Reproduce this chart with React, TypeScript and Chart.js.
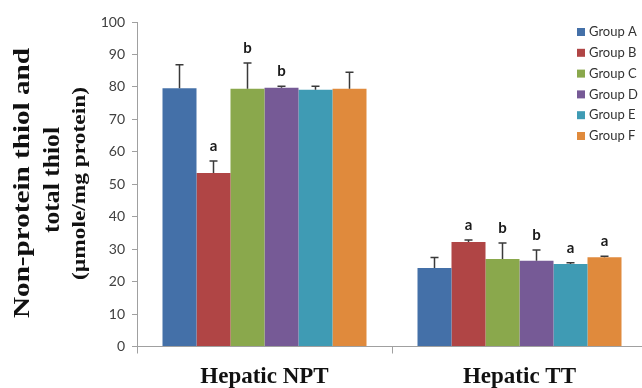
import React, { useEffect, useRef } from "react";
import { Chart, registerables } from "chart.js";

Chart.register(...registerables);

const categories = ["Hepatic NPT", "Hepatic TT"];
const groups = ["Group A", "Group B", "Group C", "Group D", "Group E", "Group F"];
const colors = ["#4470A8", "#B04545", "#8AA84C", "#765A96", "#3F9BB4", "#E08A3C"];
const groupA = [79.6, 24.2];
const groupB = [53.5, 32.2];
const groupC = [79.4, 27.0];
const groupD = [79.7, 26.4];
const groupE = [79.1, 25.4];
const groupF = [79.4, 27.5];
const errA = [7.2, 3.2];
const errB = [3.7, 0.6];
const errC = [8.0, 4.9];
const errD = [0.5, 3.3];
const errE = [1.1, 0.4];
const errF = [5.1, 0.3];
const lettersA = ["", ""];
const lettersB = ["a", "a"];
const lettersC = ["b", "b"];
const lettersD = ["b", "b"];
const lettersE = ["", "a"];
const lettersF = ["", "a"];
const yTicks = [0, 10, 20, 30, 40, 50, 60, 70, 80, 90, 100];
const yTitle = ["Non-protein thiol and", "total thiol", "(µmole/mg protein)"];

const values = [groupA, groupB, groupC, groupD, groupE, groupF];
const errors = [errA, errB, errC, errD, errE, errF];
const letters = [lettersA, lettersB, lettersC, lettersD, lettersE, lettersF];

const overlay = {
  id: "overlay",
  afterDatasetsDraw(chart: any) {
    const ctx = chart.ctx;
    const y = chart.scales.y;
    ctx.save();
    chart.data.datasets.forEach((ds: any, i: number) => {
      const meta = chart.getDatasetMeta(i);
      meta.data.forEach((bar: any, j: number) => {
        const v = values[i][j];
        const e = errors[i][j];
        const x = bar.x;
        const top = y.getPixelForValue(v + e);
        const base = y.getPixelForValue(v);
        ctx.strokeStyle = "#3a3a3a";
        ctx.lineWidth = 1.5;
        ctx.beginPath();
        ctx.moveTo(x, base);
        ctx.lineTo(x, top);
        ctx.moveTo(x - 4, top);
        ctx.lineTo(x + 4, top);
        ctx.stroke();
        const l = letters[i][j];
        if (l) {
          ctx.fillStyle = "#1a1a1a";
          ctx.font = "bold 15px Lato";
          ctx.textAlign = "center";
          ctx.textBaseline = "middle";
          ctx.fillText(l, x, top - 15);
        }
      });
    });
    ctx.restore();
  },
  afterDraw(chart: any) {
    const ctx = chart.ctx;
    ctx.save();
    // legend
    ctx.font = "13px Lato";
    ctx.textBaseline = "middle";
    ctx.textAlign = "left";
    groups.forEach((g, i) => {
      const cy = 32 + i * 20.8;
      ctx.fillStyle = colors[i];
      ctx.fillRect(577, cy - 4, 8, 8);
      ctx.fillStyle = "#333";
      ctx.fillText(g, 589, cy);
    });
    // y title
    ctx.fillStyle = "#111";
    ctx.textAlign = "center";
    ctx.textBaseline = "middle";
    const xs = [23, 53, 80];
    const ys = [183, 180, 183.5];
    const lens = [270, 106, 193];
    const fonts = ["bold 24px 'Liberation Serif'", "bold 24px 'Liberation Serif'", "bold 19px 'Liberation Serif'"];
    yTitle.forEach((t, i) => {
      ctx.save();
      ctx.font = fonts[i];
      const w = ctx.measureText(t).width;
      ctx.translate(xs[i], ys[i]);
      ctx.rotate(-Math.PI / 2);
      ctx.scale(lens[i] / w, 1);
      ctx.fillText(t, 0, 0);
      ctx.restore();
    });
    ctx.restore();
  },
};

export default function App() {
  const ref = useRef<HTMLCanvasElement>(null);
  useEffect(() => {
    const chart = new Chart(ref.current!, {
      type: "bar",
      data: {
        labels: categories,
        datasets: groups.map((g, i) => ({
          label: g,
          data: values[i],
          backgroundColor: colors[i],
          borderWidth: 0,
          categoryPercentage: 0.8,
          barPercentage: 1.0,
        })),
      },
      options: {
        animation: false,
        responsive: false,
        maintainAspectRatio: false,
        layout: { padding: { left: 0, right: 13, top: 22, bottom: 0 } },
        plugins: { legend: { display: false }, tooltip: { enabled: false } },
        scales: {
          x: {
            grid: { drawOnChartArea: false, tickLength: 7, color: "#a0a0a0", offset: true },
            border: { color: "#a0a0a0", width: 1 },
            ticks: {
              color: "#111",
              font: { family: "'Liberation Serif'", size: 23, weight: "bold" },
              padding: 10,
            },
            afterFit(s: any) {
              s.height = 388 - 346.5;
            },
          },
          y: {
            min: 0,
            max: 100,
            afterBuildTicks(s: any) {
              s.ticks = yTicks.map((v) => ({ value: v }));
            },
            grid: { drawOnChartArea: false, tickLength: 5, color: "#a0a0a0" },
            border: { color: "#a0a0a0", width: 1 },
            ticks: {
              color: "#404040",
              font: { family: "Lato", size: 14 },
              padding: 7,
            },
            afterFit(s: any) {
              s.width = 137;
            },
          },
        },
      },
      plugins: [overlay],
    });
    return () => chart.destroy();
  }, []);
  return (
    <div style={{ position: "fixed", left: 0, top: 0, width: 642, height: 388, overflow: "hidden", background: "#fff" }}>
      <canvas ref={ref} width={660} height={388} style={{ display: "block" }} />
    </div>
  );
}
